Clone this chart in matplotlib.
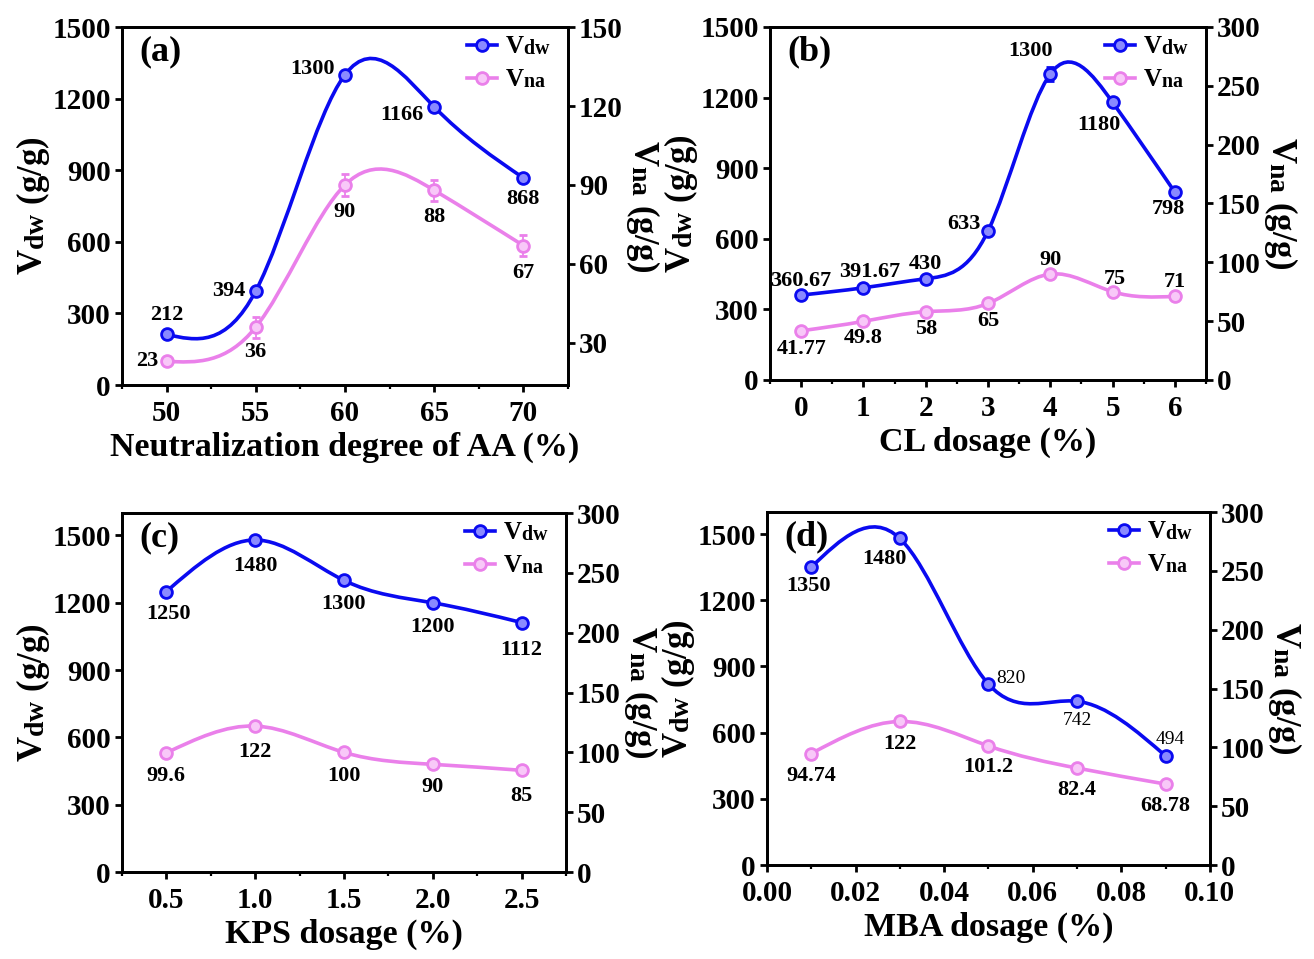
import numpy as np
import matplotlib
matplotlib.use("Agg")
import matplotlib.pyplot as plt
from matplotlib.path import Path
from matplotlib.patches import PathPatch
from matplotlib.lines import Line2D
from matplotlib.ticker import MultipleLocator, AutoMinorLocator, FormatStrFormatter

# subscripts a bit larger and less dropped, like the Origin labels
try:
    import matplotlib._mathtext as _mt
    _mt.SHRINK_FACTOR = 0.8
    _mt.FontConstantsBase.subdrop = 0.12
    _mt.FontConstantsBase.sub1 = 0.12
except Exception:
    pass

plt.rcParams["font.family"] = "Liberation Serif"
plt.rcParams["font.weight"] = "bold"
plt.rcParams["mathtext.fontset"] = "custom"
plt.rcParams["mathtext.rm"] = "Liberation Serif:bold"
plt.rcParams["mathtext.bf"] = "Liberation Serif:bold"
plt.rcParams["mathtext.it"] = "Liberation Serif:bold:italic"

BLUE = "#0a0af0"
BLUE_FACE = "#8a8aff"
VIOLET = "#ea80ea"
VIOLET_FACE = "#f8c8f8"

# ── data ──
x_a = [50, 55, 60, 65, 70]
vdw_a = [212, 394, 1300, 1166, 868]
vdw_a_err = [8, 10, 12, 10, 8]
vna_a = [23, 36, 90, 88, 67]
vna_a_err = [1, 4, 4, 4, 4]

x_b = [0, 1, 2, 3, 4, 5, 6]
vdw_b = [360.67, 391.67, 430, 633, 1300, 1180, 798]
vdw_b_err = [8, 8, 8, 8, 30, 8, 8]
vna_b = [41.77, 49.8, 58, 65, 90, 75, 71]
vna_b_err = [1, 1, 1, 1, 1, 1, 1]

x_c = [0.5, 1.0, 1.5, 2.0, 2.5]
vdw_c = [1250, 1480, 1300, 1200, 1112]
vdw_c_err = [8, 15, 8, 8, 8]
vna_c = [99.6, 122, 100, 90, 85]
vna_c_err = [1, 1, 1, 1, 1]

x_d = [0.01, 0.03, 0.05, 0.07, 0.09]
vdw_d = [1350, 1480, 820, 742, 494]
vdw_d_err = [8, 15, 8, 8, 8]
vna_d = [94.74, 122, 101.2, 82.4, 68.78]
vna_d_err = [1, 1, 1, 1, 1]

# label offsets in pixels (dx, dy) relative to each point
off_vdw_a = [(0, 19), (-27, 0), (-32, 6), (-32, -8), (0, -21)]
off_vna_a = [(-19, 0), (0, -25), (0, -27), (0, -27), (0, -27)]
off_vdw_b = [(0, 14), (6, 16), (0, 15), (-24, 7), (-20, 23), (-14, -23), (-6, -17)]
off_vna_b = [(0, -18), (0, -17), (0, -17), (0, -18), (0, 14), (2, 13), (0, 14)]
off_vdw_c = [(2, -22), (0, -26), (0, -24), (0, -24), (0, -27)]
off_vna_c = [(0, -23), (0, -26), (0, -24), (0, -23), (0, -26)]
off_vdw_d = [(-3, -19), (-15, -21), (22, 6), (0, -19), (5, 17)]
off_vna_d = [(0, -22), (0, -23), (0, -21), (0, -22), (0, -22)]

lab_vdw_a = ["212", "394", "1300", "1166", "868"]
lab_vna_a = ["23", "36", "90", "88", "67"]
lab_vdw_b = ["360.67", "391.67", "430", "633", "1300", "1180", "798"]
lab_vna_b = ["41.77", "49.8", "58", "65", "90", "75", "71"]
lab_vdw_c = ["1250", "1480", "1300", "1200", "1112"]
lab_vna_c = ["99.6", "122", "100", "90", "85"]
lab_vdw_d = ["1350", "1480", "820", "742", "494"]
lab_vna_d = ["94.74", "122", "101.2", "82.4", "68.78"]


def spline_path(x, y):
    """Natural cubic spline through the points, as exact Bezier segments."""
    x = np.asarray(x, float)
    y = np.asarray(y, float)
    n = len(x)
    h = np.diff(x)
    A = np.zeros((n, n))
    r = np.zeros(n)
    A[0, 0] = A[-1, -1] = 1
    for i in range(1, n - 1):
        A[i, i - 1] = h[i - 1]
        A[i, i] = 2 * (h[i - 1] + h[i])
        A[i, i + 1] = h[i]
        r[i] = 6 * ((y[i + 1] - y[i]) / h[i] - (y[i] - y[i - 1]) / h[i - 1])
    M = np.linalg.solve(A, r)
    verts = [(x[0], y[0])]
    codes = [Path.MOVETO]
    for i in range(n - 1):
        s = (y[i + 1] - y[i]) / h[i]
        d0 = s - h[i] * (2 * M[i] + M[i + 1]) / 6
        d1 = s + h[i] * (M[i] + 2 * M[i + 1]) / 6
        verts += [(x[i] + h[i] / 3, y[i] + h[i] / 3 * d0),
                  (x[i + 1] - h[i] / 3, y[i + 1] - h[i] / 3 * d1),
                  (x[i + 1], y[i + 1])]
        codes += [Path.CURVE4] * 3
    return Path(verts, codes)


def draw_series(ax, x, y, yerr, color, face, labels, offsets, normal=()):
    ax.add_patch(PathPatch(spline_path(x, y), fill=False, edgecolor=color,
                           lw=2.6, transform=ax.transData, zorder=2))
    ax.errorbar(x, y, yerr=yerr, fmt="o", color=color, ms=8.5, mfc=face, mec=color,
                mew=2, ecolor=color, elinewidth=1.3, capsize=3, zorder=3)
    for i, (xi, yi, t, o) in enumerate(zip(x, y, labels, offsets)):
        if i in normal:
            ax.annotate(t, (xi, yi), xytext=o, textcoords="offset pixels",
                        ha="center", va="center", fontsize=14, fontweight="normal")
        else:
            ax.annotate(t, (xi, yi), xytext=o, textcoords="offset pixels",
                        ha="center", va="center", fontsize=16, fontweight="bold")


def panel(rect, tag, x, vdw, vdw_err, vna, vna_err, xlim, xmajor, xlabel,
          ylim_l, ylim_r, rmajor, lab_vdw, off_vdw, lab_vna, off_vna,
          xfmt=None, normal_vdw=()):
    ax = fig.add_axes(rect)
    ax2 = ax.twinx()
    draw_series(ax, x, vdw, vdw_err, BLUE, BLUE_FACE, lab_vdw, off_vdw, normal=normal_vdw)
    draw_series(ax2, x, vna, vna_err, VIOLET, VIOLET_FACE, lab_vna, off_vna)
    ax.set_xlim(*xlim)
    ax.set_ylim(*ylim_l)
    ax2.set_ylim(*ylim_r)
    ax.xaxis.set_major_locator(MultipleLocator(xmajor))
    ax.xaxis.set_minor_locator(AutoMinorLocator(2))
    ax.yaxis.set_major_locator(MultipleLocator(300))
    ax2.yaxis.set_major_locator(MultipleLocator(rmajor))
    if xfmt:
        ax.xaxis.set_major_formatter(FormatStrFormatter(xfmt))
    for a in (ax, ax2):
        for sp in a.spines.values():
            sp.set_linewidth(2)
        a.tick_params(axis="both", which="major", direction="out", length=5,
                      width=2, labelsize=21, pad=3)
        a.tick_params(axis="both", which="minor", direction="out", length=3, width=1.6)
    ax.tick_params(axis="x", which="major", pad=6)
    ax.set_xlabel(xlabel, fontsize=24.5, fontweight="bold", labelpad=3)
    ax.set_ylabel(r"V$_{\rm dw}$ (g/g)", fontsize=25, fontweight="bold", labelpad=0)
    ax2.set_ylabel(r"V$_{\rm na}$ (g/g)", fontsize=25, fontweight="bold",
                   rotation=270, va="bottom", labelpad=1)
    ax.text(0.04, 0.93, tag, transform=ax.transAxes, fontsize=26,
            fontweight="bold", ha="left", va="center")
    handles = [
        Line2D([], [], color=BLUE, lw=2.6, marker="o", ms=8.5, mfc=BLUE_FACE, mec=BLUE, mew=2),
        Line2D([], [], color=VIOLET, lw=2.6, marker="o", ms=8.5, mfc=VIOLET_FACE, mec=VIOLET, mew=2),
    ]
    ax2.legend(handles, [r"V$_{\rm dw}$", r"V$_{\rm na}$"], loc="upper right",
               bbox_to_anchor=(1.0, 1.025), frameon=False, fontsize=18,
               handlelength=1.2, handletextpad=0.3, labelspacing=0.4, borderaxespad=0.3)
    return ax, ax2


fig = plt.figure(figsize=(13.14, 9.59), dpi=100)

panel([0.0928, 0.5985, 0.3394, 0.3733], "(a)", x_a, vdw_a, vdw_a_err, vna_a, vna_a_err,
      (47.5, 72.5), 5, "Neutralization degree of AA (%)", (0, 1500), (14, 150), 30,
      lab_vdw_a, off_vdw_a, lab_vna_a, off_vna_a)

panel([0.586, 0.6038, 0.3318, 0.3681], "(b)", x_b, vdw_b, vdw_b_err, vna_b, vna_b_err,
      (-0.5, 6.5), 1, "CL dosage (%)", (0, 1500), (0, 300), 50,
      lab_vdw_b, off_vdw_b, lab_vna_b, off_vna_b)

panel([0.0928, 0.0907, 0.3379, 0.3743], "(c)", x_c, vdw_c, vdw_c_err, vna_c, vna_c_err,
      (0.25, 2.75), 0.5, "KPS dosage (%)", (0, 1600), (0, 300), 50,
      lab_vdw_c, off_vdw_c, lab_vna_c, off_vna_c, xfmt="%.1f")

panel([0.5837, 0.098, 0.3371, 0.3681], "(d)", x_d, vdw_d, vdw_d_err, vna_d, vna_d_err,
      (0, 0.1), 0.02, "MBA dosage (%)", (0, 1600), (0, 300), 50,
      lab_vdw_d, off_vdw_d, lab_vna_d, off_vna_d, xfmt="%.2f", normal_vdw=(2, 3, 4))

fig.savefig("out.png", dpi=100, facecolor="white")
